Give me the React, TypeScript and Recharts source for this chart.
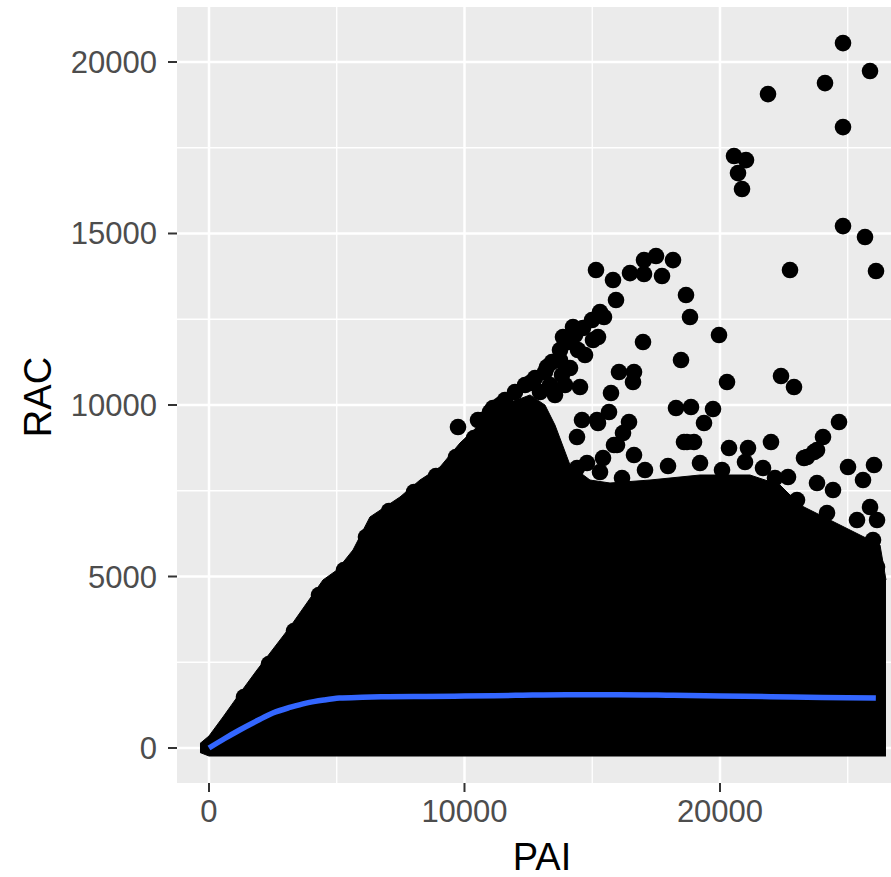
import React from "react";
import {
  ComposedChart,
  XAxis,
  YAxis,
  CartesianGrid,
  Area,
  Line,
  Scatter,
} from "recharts";

// ---- axis ticks ----
const paiTicks = [0, 10000, 20000];
const paiMinor = [5000, 15000, 25000];
const racTicks = [0, 5000, 10000, 15000, 20000];
const racMinor = [2500, 7500, 12500, 17500];

// ---- dense core of the point cloud (envelope) ----
const coreX = [
  -352, 0, 548, 1213, 1879, 3170, 4462, 5010, 5636, 6301, 7476, 8258, 9041,
  9824, 10489, 10998, 12055, 12564, 13151, 13542, 14129, 14912, 15695, 17260,
  19217, 21174, 22348, 23131, 24305, 25479, 26262, 26497,
];
const coreTop = [
  130, 350, 904, 1600, 2274, 3528, 4898, 5190, 5773, 6735, 7318, 7813, 8192,
  8892, 9359, 9942, 10146, 10292, 9998, 9415, 8251, 7813, 7726, 7813, 7959,
  7959, 7668, 7085, 6647, 6210, 5918, 4898,
];
const coreLow = [
  -130, -233, -233, -233, -233, -233, -233, -233, -233, -233, -233, -233, -233,
  -233, -233, -233, -233, -233, -233, -233, -233, -233, -233, -233, -233, -233,
  -233, -233, -233, -233, -233, -233,
];

// ---- individual points outside / on the edge of the dense core ----
const outPAI = [
  24815, 25872, 24110, 21879, 24815, 20549, 21018, 20705, 20862, 24815, 25676,
  22740, 26106, 15147, 15813, 16478, 17026, 17496, 18161, 17026, 17730, 18670,
  15930, 18826, 19961, 16987, 18474, 20275, 22388, 22897, 16047, 16635, 16595,
  15734, 15656, 15225, 16439, 16204, 15852, 15421, 16635, 18278, 18865, 19727,
  19374, 18592, 18983, 20353, 21096, 21997, 24658, 24032, 23680, 23288, 25010,
  26028, 22662, 21684, 15460, 15225, 9746, 10685, 11116, 12173, 12564, 13229,
  13738, 13856, 14247, 14443, 15030, 14521, 14599, 14404, 12681, 13621, 12955,
  14404, 14795, 15186, 15969, 18709, 23406, 23797, 23797, 24423, 25598, 25872,
  26146, 25363, 24189, 23014, 25989, 26146, 15304, 16165, 17065, 17965, 19218,
  20079, 20979, 22153, 11585, 11977, 12368, 12760, 13151, 13425, 13738, 14051,
  14325, 14638, 14991, 15304, 12955, 13347, 13816, 14130, 14717, 13542, 13934,
  10998, 10529, 11390, 1370, 2348, 3327, 4305, 5284, 6145, 7045, 8024, 8885,
  9668, 10372,
];
const outRAC = [
  20551, 19735, 19385, 19064, 18102, 17257, 17140, 16761, 16295, 15216, 14896,
  13934, 13905, 13934, 13642, 13846, 14225, 14342, 14225, 13817, 13759, 13205,
  13059, 12564, 12039, 11835, 11310, 10669, 10844, 10523, 10960, 10960, 10669,
  10348, 9794, 9474, 9503, 9182, 8832, 8454, 8541, 9911, 9940, 9882, 9474, 8920,
  8920, 8745, 8745, 8920, 9503, 9066, 8628, 8454, 8191, 8249, 7900, 8162, 12564,
  11981, 9357, 9561, 9911, 9940, 10640, 11106, 11310, 11981, 12272, 11602,
  11893, 10523, 9561, 9066, 9182, 8162, 7725, 8162, 8308, 9561, 8832, 8920,
  8483, 8687, 7725, 7521, 7812, 7025, 6646, 6646, 6850, 7229, 6063, 5276, 8045,
  7871, 8104, 8220, 8308, 8104, 8337, 7871, 10144, 10377, 10581, 10786, 10960,
  11252, 11602, 11835, 12039, 12243, 12476, 12709, 10377, 10581, 10873, 11077,
  11456, 10290, 10581, 9794, 9561, 9998, 1487, 2449, 3411, 4460, 5189, 6151,
  6909, 7462, 7929, 8483, 9037,
];

// ---- smoothed fit (blue) ----
const fitX = [
  0, 600, 1200, 1900, 2500, 3200, 3800, 4500, 5100, 6000, 7000, 8500, 10000,
  12000, 14000, 16000, 18000, 20000, 22000, 24000, 26100,
];
const fitY = [
  0, 270, 525, 800, 1020, 1190, 1310, 1400, 1455, 1480, 1495, 1505, 1515, 1535,
  1555, 1555, 1540, 1518, 1495, 1475, 1455,
];

const coreData = coreX.map((x, i) => ({ x, band: [coreLow[i], coreTop[i]] }));
const pointData = outPAI.map((x, i) => ({ x, y: outRAC[i] }));
const fitData = fitX.map((x, i) => ({ x, fit: fitY[i] }));

const FONT = '"Liberation Sans", Arial, Helvetica, sans-serif';

const Dot = (p: any) => <circle cx={p.cx} cy={p.cy} r={8.3} fill="#000000" />;

const YTitle = (props: any) => {
  const vb = props.viewBox || { x: 0, y: 0, width: 0, height: 0 };
  const x = vb.x + 51;
  const y = vb.y + vb.height / 2 + 2;
  return (
    <text
      x={x}
      y={y}
      transform={`rotate(-90, ${x}, ${y})`}
      textAnchor="middle"
      fontFamily={FONT}
      fontSize={38}
      fill="#000000"
    >
      RAC
    </text>
  );
};

const XTitle = (props: any) => {
  const vb = props.viewBox || { x: 0, y: 0, width: 0, height: 0 };
  const x = vb.x + vb.width / 2 + 8;
  const y = vb.y + 87;
  return (
    <text x={x} y={y} textAnchor="middle" fontFamily={FONT} fontSize={38} fill="#000000">
      PAI
    </text>
  );
};

export default function App() {
  return (
    <div style={{ position: "absolute", left: 0, top: 0, background: "#ffffff" }}>
      <ComposedChart
        width={891}
        height={877}
        margin={{ top: 7, right: 0, bottom: 0, left: 0 }}
      >
        <CartesianGrid
          fill="#EBEBEB"
          stroke="#FFFFFF"
          strokeWidth={1.3}
          horizontalValues={racMinor}
          verticalValues={paiMinor}
        />
        <CartesianGrid
          stroke="#FFFFFF"
          strokeWidth={2.5}
          horizontalValues={racTicks}
          verticalValues={paiTicks}
        />
        <XAxis
          type="number"
          dataKey="x"
          domain={[-1252, 26693]}
          allowDataOverflow
          ticks={paiTicks}
          height={94}
          axisLine={false}
          tickSize={9}
          tickMargin={8}
          tickLine={{ stroke: "#333333", strokeWidth: 2 }}
          tick={{ fill: "#4D4D4D", fontSize: 31, fontFamily: FONT }}
          label={<XTitle />}
        />
        <YAxis
          type="number"
          domain={[-1020, 21603]}
          allowDataOverflow
          ticks={racTicks}
          width={177}
          axisLine={false}
          tickSize={9}
          tickMargin={11}
          tickLine={{ stroke: "#333333", strokeWidth: 2 }}
          tick={{ fill: "#4D4D4D", fontSize: 31, fontFamily: FONT }}
          label={<YTitle />}
        />
        <Area
          data={coreData}
          dataKey="band"
          type="linear"
          fill="#000000"
          fillOpacity={1}
          stroke="#000000"
          strokeWidth={1}
          dot={false}
          activeDot={false}
          isAnimationActive={false}
        />
        <Scatter
          data={pointData}
          dataKey="y"
          shape={Dot}
          isAnimationActive={false}
        />
        <Line
          data={fitData}
          dataKey="fit"
          type="monotone"
          stroke="#3366FF"
          strokeWidth={5.5}
          dot={false}
          activeDot={false}
          isAnimationActive={false}
          zIndex={700}
        />
      </ComposedChart>
    </div>
  );
}
